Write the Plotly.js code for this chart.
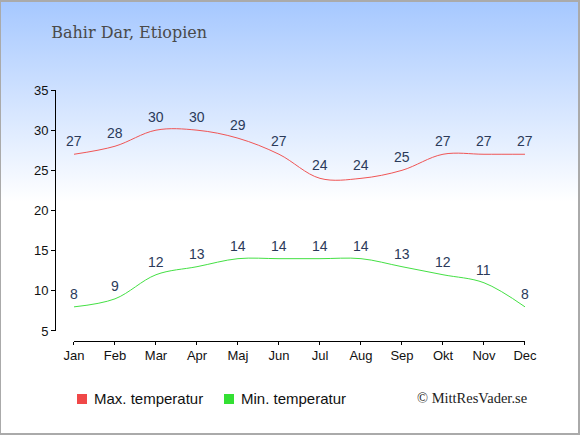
<!DOCTYPE html>
<html><head><meta charset="utf-8">
<script src="https://cdn.plot.ly/plotly-3.0.1.min.js"></script>
<style>
html,body{margin:0;padding:0;}
#wrap{width:580px;height:435px;box-sizing:border-box;border:1px solid #aaa;border-top-width:2px;border-right-width:2px;border-bottom-width:2px;
background:linear-gradient(to bottom,#a6c8ff 0px,#ffffff 200px,#ffffff 435px);}
#chart{width:577px;height:431px;}
</style></head>
<body><div id="wrap"><div id="chart"></div></div>
<script>
var months = ["Jan","Feb","Mar","Apr","Maj","Jun","Jul","Aug","Sep","Okt","Nov","Dec"];
var maxTemp = [27,28,30,30,29,27,24,24,25,27,27,27];
var minTemp = [8,9,12,13,14,14,14,14,13,12,11,8];
var yTicks = [5,10,15,20,25,30,35];
var titleText = "Bahir Dar, Etiopien";
var maxName = "Max. temperatur";
var minName = "Min. temperatur";
var credit = "© MittResVader.se";

var redC = "#f05555", greenC = "#44e044", labelC = "#2b3a5a";
var idx = months.map(function(m,i){return i;});

var traces = [
 {x:idx,y:maxTemp,name:maxName,mode:"lines",line:{color:redC,width:1,shape:"spline",smoothing:1},showlegend:false,hoverinfo:"skip"},
 {x:idx,y:minTemp,name:minName,mode:"lines",line:{color:greenC,width:1,shape:"spline",smoothing:1},showlegend:false,hoverinfo:"skip"}
];

var ann = [];
function addLabels(vals){
  vals.forEach(function(v,i){
    ann.push({x:i,y:v,xref:"x",yref:"y",text:String(v),showarrow:false,yanchor:"middle",yshift:13,
      font:{family:"Liberation Sans, Arial, sans-serif",size:14,color:labelC}});
  });
}
addLabels(maxTemp); addLabels(minTemp);
var legY = -0.2271;
var legFont = {family:"Liberation Sans, Arial, sans-serif",size:15,color:"#111"};
ann.push({text:maxName,xref:"paper",yref:"paper",x:0.0809,y:legY,xanchor:"left",yanchor:"middle",showarrow:false,font:legFont,borderpad:0});
ann.push({text:minName,xref:"paper",yref:"paper",x:0.3936,y:legY,xanchor:"left",yanchor:"middle",showarrow:false,font:legFont,borderpad:0});
ann.push({text:credit,xref:"paper",yref:"paper",x:1.0064,y:legY,xanchor:"right",yanchor:"middle",showarrow:false,borderpad:0,
  font:{family:"Liberation Serif, Times New Roman, serif",size:14.5,color:"#222"}});

var shapes = [
 {type:"rect",xref:"paper",yref:"paper",x0:0.0468,x1:0.0681,y0:-0.2112,y1:-0.251,fillcolor:"#f04848",line:{width:0}},
 {type:"rect",xref:"paper",yref:"paper",x0:0.3596,x1:0.3809,y0:-0.2112,y1:-0.251,fillcolor:"#33e033",line:{width:0}}
];

var layout = {
  width:577,height:431,
  paper_bgcolor:"rgba(0,0,0,0)",plot_bgcolor:"rgba(0,0,0,0)",
  margin:{l:54,r:53,t:88,b:92},
  title:{text:titleText,x:0.087,xanchor:"left",y:0.930,yanchor:"middle",
    font:{family:"DejaVu Serif, serif",size:16,color:"#4a4a4a"}},
  xaxis:{domain:[0.0404,1],range:[0,11],tickvals:idx,ticktext:months,showline:true,linecolor:"#000",linewidth:1,
    ticks:"outside",ticklen:3,tickcolor:"#000",showgrid:false,zeroline:false,anchor:"free",position:0,
    ticklabelstandoff:-1,
    tickfont:{family:"Liberation Sans, Arial, sans-serif",size:13,color:"#111"},fixedrange:true},
  yaxis:{domain:[0.04,1],range:[5,35],tickvals:yTicks,showline:true,linecolor:"#000",linewidth:1,
    ticks:"outside",ticklen:4,tickcolor:"#000",showgrid:false,zeroline:false,anchor:"free",position:0,
    tickfont:{family:"Liberation Sans, Arial, sans-serif",size:13,color:"#111"},fixedrange:true},
  showlegend:false,
  shapes:shapes,
  annotations:ann
};
Plotly.newPlot("chart",traces,layout,{staticPlot:true,displayModeBar:false});
</script></body></html>
